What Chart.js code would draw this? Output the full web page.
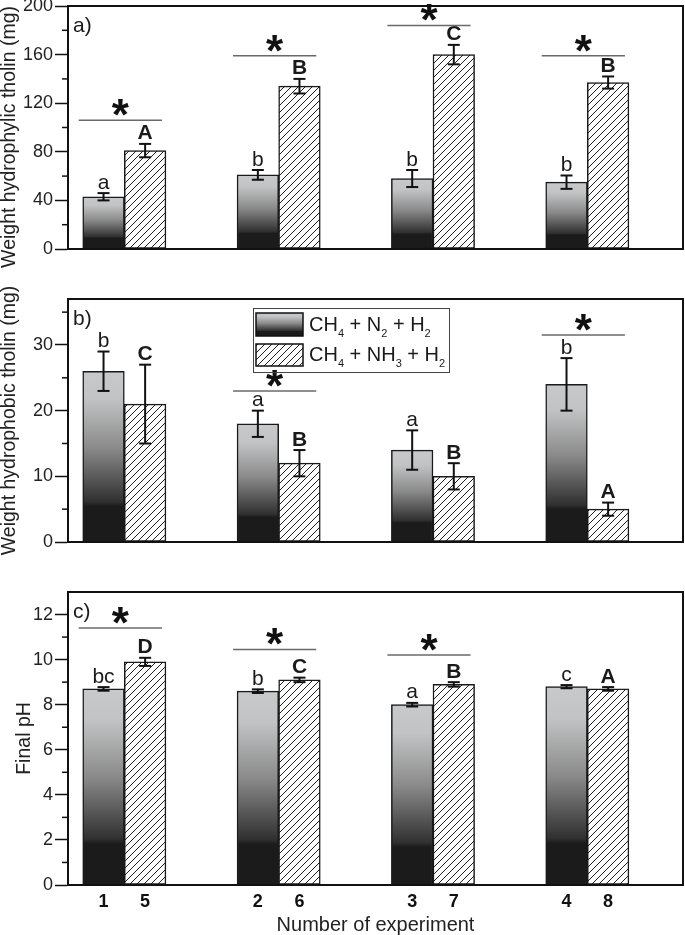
<!DOCTYPE html>
<html><head><meta charset="utf-8">
<script src="https://cdn.jsdelivr.net/npm/chart.js@4.4.0/dist/chart.umd.min.js"></script>
<style>
html,body{margin:0;padding:0;background:#fff;}
#wrap{position:relative;width:685px;height:935px;overflow:hidden;background:#fff;}
.panel{position:absolute;left:0;width:685px;}
</style></head><body>
<div id="wrap">
<div class="panel" style="top:0;height:300px"><canvas id="ca"></canvas></div>
<div class="panel" style="top:280px;height:320px"><canvas id="cb"></canvas></div>
<div class="panel" style="top:580px;height:355px"><canvas id="cc"></canvas></div>
</div>
<script>
// ---------- data ----------
const groupPos = [1, 2, 3, 4];
const expN2 = [1, 2, 3, 4];
const expNH3 = [5, 6, 7, 8];
const seriesNames = ['CH4 + N2 + H2', 'CH4 + NH3 + H2'];
const xAxisTitle = 'Number of experiment';

// a) hydrophylic tholin (mg)
const hydrophylicN2 = [43, 61, 58, 55];
const hydrophylicN2Err = [3, 4, 7, 5.5];
const hydrophylicNH3 = [81, 134, 160, 137];
const hydrophylicNH3Err = [5.5, 6, 8, 5];
const hydrophylicN2Letters = ['a', 'b', 'b', 'b'];
const hydrophylicNH3Letters = ['A', 'B', 'C', 'B'];
const hydrophylicSig = [106, 159, 184, 159];
const yTicksA = [0, 40, 80, 120, 160, 200];

// b) hydrophobic tholin (mg)
const hydrophobicN2 = [26, 18, 14, 24];
const hydrophobicN2Err = [3, 2, 3, 4];
const hydrophobicNH3 = [21, 12, 10, 5];
const hydrophobicNH3Err = [6, 2, 2, 1];
const hydrophobicN2Letters = ['b', 'a', 'a', 'b'];
const hydrophobicNH3Letters = ['C', 'B', 'B', 'A'];
const hydrophobicSig = [null, 23, null, 31.5];
const yTicksB = [0, 10, 20, 30];

// c) final pH
const pHN2 = [8.7, 8.6, 8.0, 8.8];
const pHN2Err = [0.08, 0.08, 0.08, 0.07];
const pHNH3 = [9.9, 9.1, 8.9, 8.7];
const pHNH3Err = [0.18, 0.1, 0.1, 0.08];
const pHN2Letters = ['bc', 'b', 'a', 'c'];
const pHNH3Letters = ['D', 'C', 'B', 'A'];
const pHSig = [11.4, 10.45, 10.2, null];
const yTicksC = [0, 2, 4, 6, 8, 10, 12];

// ---------- styling ----------
const FAM = '"Liberation Sans", Arial, Helvetica, sans-serif';
const X_MIN = 0.635, X_MAX = 4.62;
const BAR_PX = 41.6;
const pxPerUnit = 615 / (X_MAX - X_MIN);
const barOff = (BAR_PX / 2) / pxPerUnit;
const xTickValues = [];
const xTickLabels = [];
groupPos.forEach((g, i) => {
  xTickValues.push(g - barOff); xTickLabels.push(String(expN2[i]));
  xTickValues.push(g + barOff); xTickLabels.push(String(expNH3[i]));
});

function makeHatch(ctx) {
  const s = 7;
  const t = document.createElement('canvas');
  t.width = s; t.height = s;
  const x = t.getContext('2d');
  x.fillStyle = '#fff'; x.fillRect(0, 0, s, s);
  x.strokeStyle = '#1e1e1e'; x.lineWidth = 1;
  x.beginPath(); x.moveTo(-1, s + 1); x.lineTo(s + 1, -1); x.stroke();
  x.beginPath(); x.moveTo(-1, 1); x.lineTo(1, -1); x.stroke();
  x.beginPath(); x.moveTo(s - 1, s + 1); x.lineTo(s + 1, s - 1); x.stroke();
  return ctx.createPattern(t, 'repeat');
}

function addStops(g) {
  g.addColorStop(0, '#1b1b1b');
  g.addColorStop(0.21, '#1b1b1b');
  g.addColorStop(0.235, '#303030');
  g.addColorStop(0.55, '#8a8a8a');
  g.addColorStop(0.84, '#c2c3c4');
  g.addColorStop(1, '#c8c9ca');
  return g;
}

function gradientFill(ctx) {
  const chart = ctx.chart;
  if (!chart.chartArea || !ctx.parsed) return '#888';
  const ys = chart.scales.y;
  const top = ys.getPixelForValue(ctx.parsed.y);
  const base = ys.getPixelForValue(0);
  if (!isFinite(top) || !isFinite(base) || top === base) return '#888';
  return addStops(chart.ctx.createLinearGradient(0, base, 0, top));
}

function formulaParts(name) {
  const parts = [];
  for (const ch of name) {
    const sub = /[0-9]/.test(ch);
    if (parts.length && parts[parts.length - 1][1] === sub) parts[parts.length - 1][0] += ch;
    else parts.push([ch, sub]);
  }
  return parts;
}

function drawFormula(c, name, x, y) {
  for (const [t, sub] of formulaParts(name)) {
    c.font = sub ? '11px ' + FAM : '20px ' + FAM;
    c.fillText(t, x, sub ? y + 6 : y);
    x += c.measureText(t).width;
  }
}

function line(c, x1, y1, x2, y2) { c.beginPath(); c.moveTo(x1, y1); c.lineTo(x2, y2); c.stroke(); }

function makePlugin(cfg, hatch) {
  return {
    id: 'annot' + cfg.label.replace(/\W/g, ''),
    afterDraw(chart) {
      const c = chart.ctx, a = chart.chartArea, ys = chart.scales.y;
      c.save();
      // minor ticks
      c.strokeStyle = '#111'; c.lineWidth = 1.5;
      cfg.yTicks.forEach(t => {
        const v = t + cfg.minorStep;
        if (v >= cfg.yMax) return;
        const y = ys.getPixelForValue(v);
        line(c, a.left - 6, y, a.left, y);
      });
      // frame
      c.lineWidth = 2; c.strokeStyle = '#111';
      c.strokeRect(a.left, a.top, a.right - a.left, a.bottom - a.top);
      // error bars + letters
      const sets = [[cfg.n2, cfg.n2Err, cfg.n2Letters], [cfg.nh3, cfg.nh3Err, cfg.nh3Letters]];
      sets.forEach((s, d) => {
        const meta = chart.getDatasetMeta(d);
        meta.data.forEach((bar, i) => {
          const v = s[0][i], e = s[1][i];
          const yt = ys.getPixelForValue(v + e), yb = ys.getPixelForValue(v - e);
          c.strokeStyle = '#111'; c.lineWidth = 2;
          line(c, bar.x, yt, bar.x, yb);
          line(c, bar.x - 6, yt, bar.x + 6, yt);
          line(c, bar.x - 6, yb, bar.x + 6, yb);
          c.fillStyle = '#1a1a1a';
          c.textAlign = 'center'; c.textBaseline = 'alphabetic';
          c.font = d === 0 ? '21px ' + FAM : 'bold 21px ' + FAM;
          c.fillText(s[2][i], bar.x, yt - 4.5);
        });
      });
      // significance lines + asterisks
      const m0 = chart.getDatasetMeta(0), m1 = chart.getDatasetMeta(1);
      cfg.sig.forEach((sv, i) => {
        if (sv === null) return;
        const b0 = m0.data[i], b1 = m1.data[i];
        const l = b0.x - b0.width / 2 - 4, r = b1.x + b1.width / 2 - 4;
        const y = ys.getPixelForValue(sv);
        c.strokeStyle = '#6a6a6a'; c.lineWidth = 1.5;
        line(c, l, y, r, y);
        c.fillStyle = '#111';
        c.font = 'bold 44px ' + FAM;
        c.textAlign = 'center'; c.textBaseline = 'alphabetic';
        const m = c.measureText('*');
        const cy = y - 12.5;
        const base = cy + (m.actualBoundingBoxAscent - m.actualBoundingBoxDescent) / 2;
        c.fillText('*', (l + r) / 2, base);
      });
      // panel label
      c.fillStyle = '#1a1a1a';
      c.font = '21px ' + FAM; c.textAlign = 'left'; c.textBaseline = 'alphabetic';
      c.fillText(cfg.label, a.left + 5, a.top + 26);
      // legend
      if (cfg.legend) {
        const lx = a.left + 185, ly = a.top + 9;
        c.strokeStyle = '#444'; c.lineWidth = 1;
        c.strokeRect(lx + 0.5, ly + 0.5, 196, 64);
        const g = addStops(c.createLinearGradient(0, ly + 28, 0, ly + 5));
        c.fillStyle = g; c.fillRect(lx + 3, ly + 5, 47, 23);
        c.strokeStyle = '#111'; c.lineWidth = 1.5;
        c.strokeRect(lx + 3, ly + 5, 47, 23);
        c.fillStyle = hatch; c.fillRect(lx + 3, ly + 36, 47, 22);
        c.strokeRect(lx + 3, ly + 36, 47, 22);
        c.fillStyle = '#1a1a1a'; c.textAlign = 'left';
        drawFormula(c, seriesNames[0], lx + 56, ly + 23);
        drawFormula(c, seriesNames[1], lx + 56, ly + 53);
      }
      c.restore();
    }
  };
}

function build(canvasId, cfg) {
  const canvas = document.getElementById(canvasId);
  const hatch = makeHatch(canvas.getContext('2d'));
  return new Chart(canvas, {
    type: 'bar',
    data: {
      datasets: [
        {
          label: seriesNames[0],
          data: groupPos.map((g, i) => ({x: g, y: cfg.n2[i]})),
          backgroundColor: gradientFill,
          borderColor: '#1a1a1a', borderWidth: 1.5, borderSkipped: false,
          stack: 'n2'
        },
        {
          label: seriesNames[1],
          data: groupPos.map((g, i) => ({x: g, y: cfg.nh3[i]})),
          backgroundColor: hatch,
          borderColor: '#1a1a1a', borderWidth: 1.5, borderSkipped: false,
          stack: 'nh3'
        }
      ]
    },
    options: {
      responsive: true, maintainAspectRatio: false, animation: false, events: [],
      barThickness: BAR_PX,
      layout: {padding: cfg.padding},
      plugins: {legend: {display: false}, tooltip: {enabled: false}},
      scales: {
        x: {
          type: 'linear', min: X_MIN, max: X_MAX, offset: false, display: cfg.showX,
          grid: {display: false, drawTicks: false, offset: false},
          border: {display: false},
          afterBuildTicks: s => { s.ticks = xTickValues.map(v => ({value: v})); },
          afterFit: s => { s.height = 50; s.paddingLeft = 0; s.paddingRight = 0; },
          ticks: {autoSkip: false, maxRotation: 0, padding: 6, color: '#111',
            font: {size: 18, weight: 'bold', family: FAM},
            callback: (v, i) => xTickLabels[i]},
          title: {display: true, text: xAxisTitle, color: '#222',
            font: {size: 20, family: FAM, lineHeight: 1}, padding: 0}
        },
        y: {
          min: 0, max: cfg.yMax,
          afterBuildTicks: s => { s.ticks = cfg.yTicks.map(v => ({value: v})); },
          afterFit: s => { s.width = cfg.axisWidth; s.paddingTop = 0; s.paddingBottom = 0; },
          grid: {drawOnChartArea: false, drawTicks: true, tickLength: 13, tickWidth: 1.5, tickColor: '#111'},
          border: {display: true, color: '#111', width: 2},
          ticks: {padding: 2, color: '#222', font: {size: 18, family: FAM}, callback: v => String(v)},
          title: {display: true, text: cfg.title, align: cfg.titleAlign, color: '#222',
            font: {size: 19.5, family: FAM, lineHeight: 1}, padding: 0}
        }
      }
    },
    plugins: [makePlugin(cfg, hatch)]
  });
}

build('ca', {
  label: 'a)', n2: hydrophylicN2, n2Err: hydrophylicN2Err, nh3: hydrophylicNH3, nh3Err: hydrophylicNH3Err,
  n2Letters: hydrophylicN2Letters, nh3Letters: hydrophylicNH3Letters, sig: hydrophylicSig,
  yMax: 200, yTicks: yTicksA, minorStep: 20, title: 'Weight hydrophylic tholin (mg)', titleAlign: 'end',
  axisWidth: 68, padding: {top: 6, bottom: 1, left: 0, right: 2}, showX: false, legend: false
});
build('cb', {
  label: 'b)', n2: hydrophobicN2, n2Err: hydrophobicN2Err, nh3: hydrophobicNH3, nh3Err: hydrophobicNH3Err,
  n2Letters: hydrophobicN2Letters, nh3Letters: hydrophobicNH3Letters, sig: hydrophobicSig,
  yMax: 37, yTicks: yTicksB, minorStep: 5, title: 'Weight hydrophobic tholin (mg)', titleAlign: 'center',
  axisWidth: 68, padding: {top: 19, bottom: 8, left: 0, right: 2}, showX: false, legend: true
});
build('cc', {
  label: 'c)', n2: pHN2, n2Err: pHN2Err, nh3: pHNH3, nh3Err: pHNH3Err,
  n2Letters: pHN2Letters, nh3Letters: pHNH3Letters, sig: pHSig,
  yMax: 13, yTicks: yTicksC, minorStep: 1, title: 'Final pH', titleAlign: 'center',
  axisWidth: 53.5, padding: {top: 12, bottom: 0, left: 14.5, right: 2}, showX: true, legend: false
});
</script>
</body></html>
